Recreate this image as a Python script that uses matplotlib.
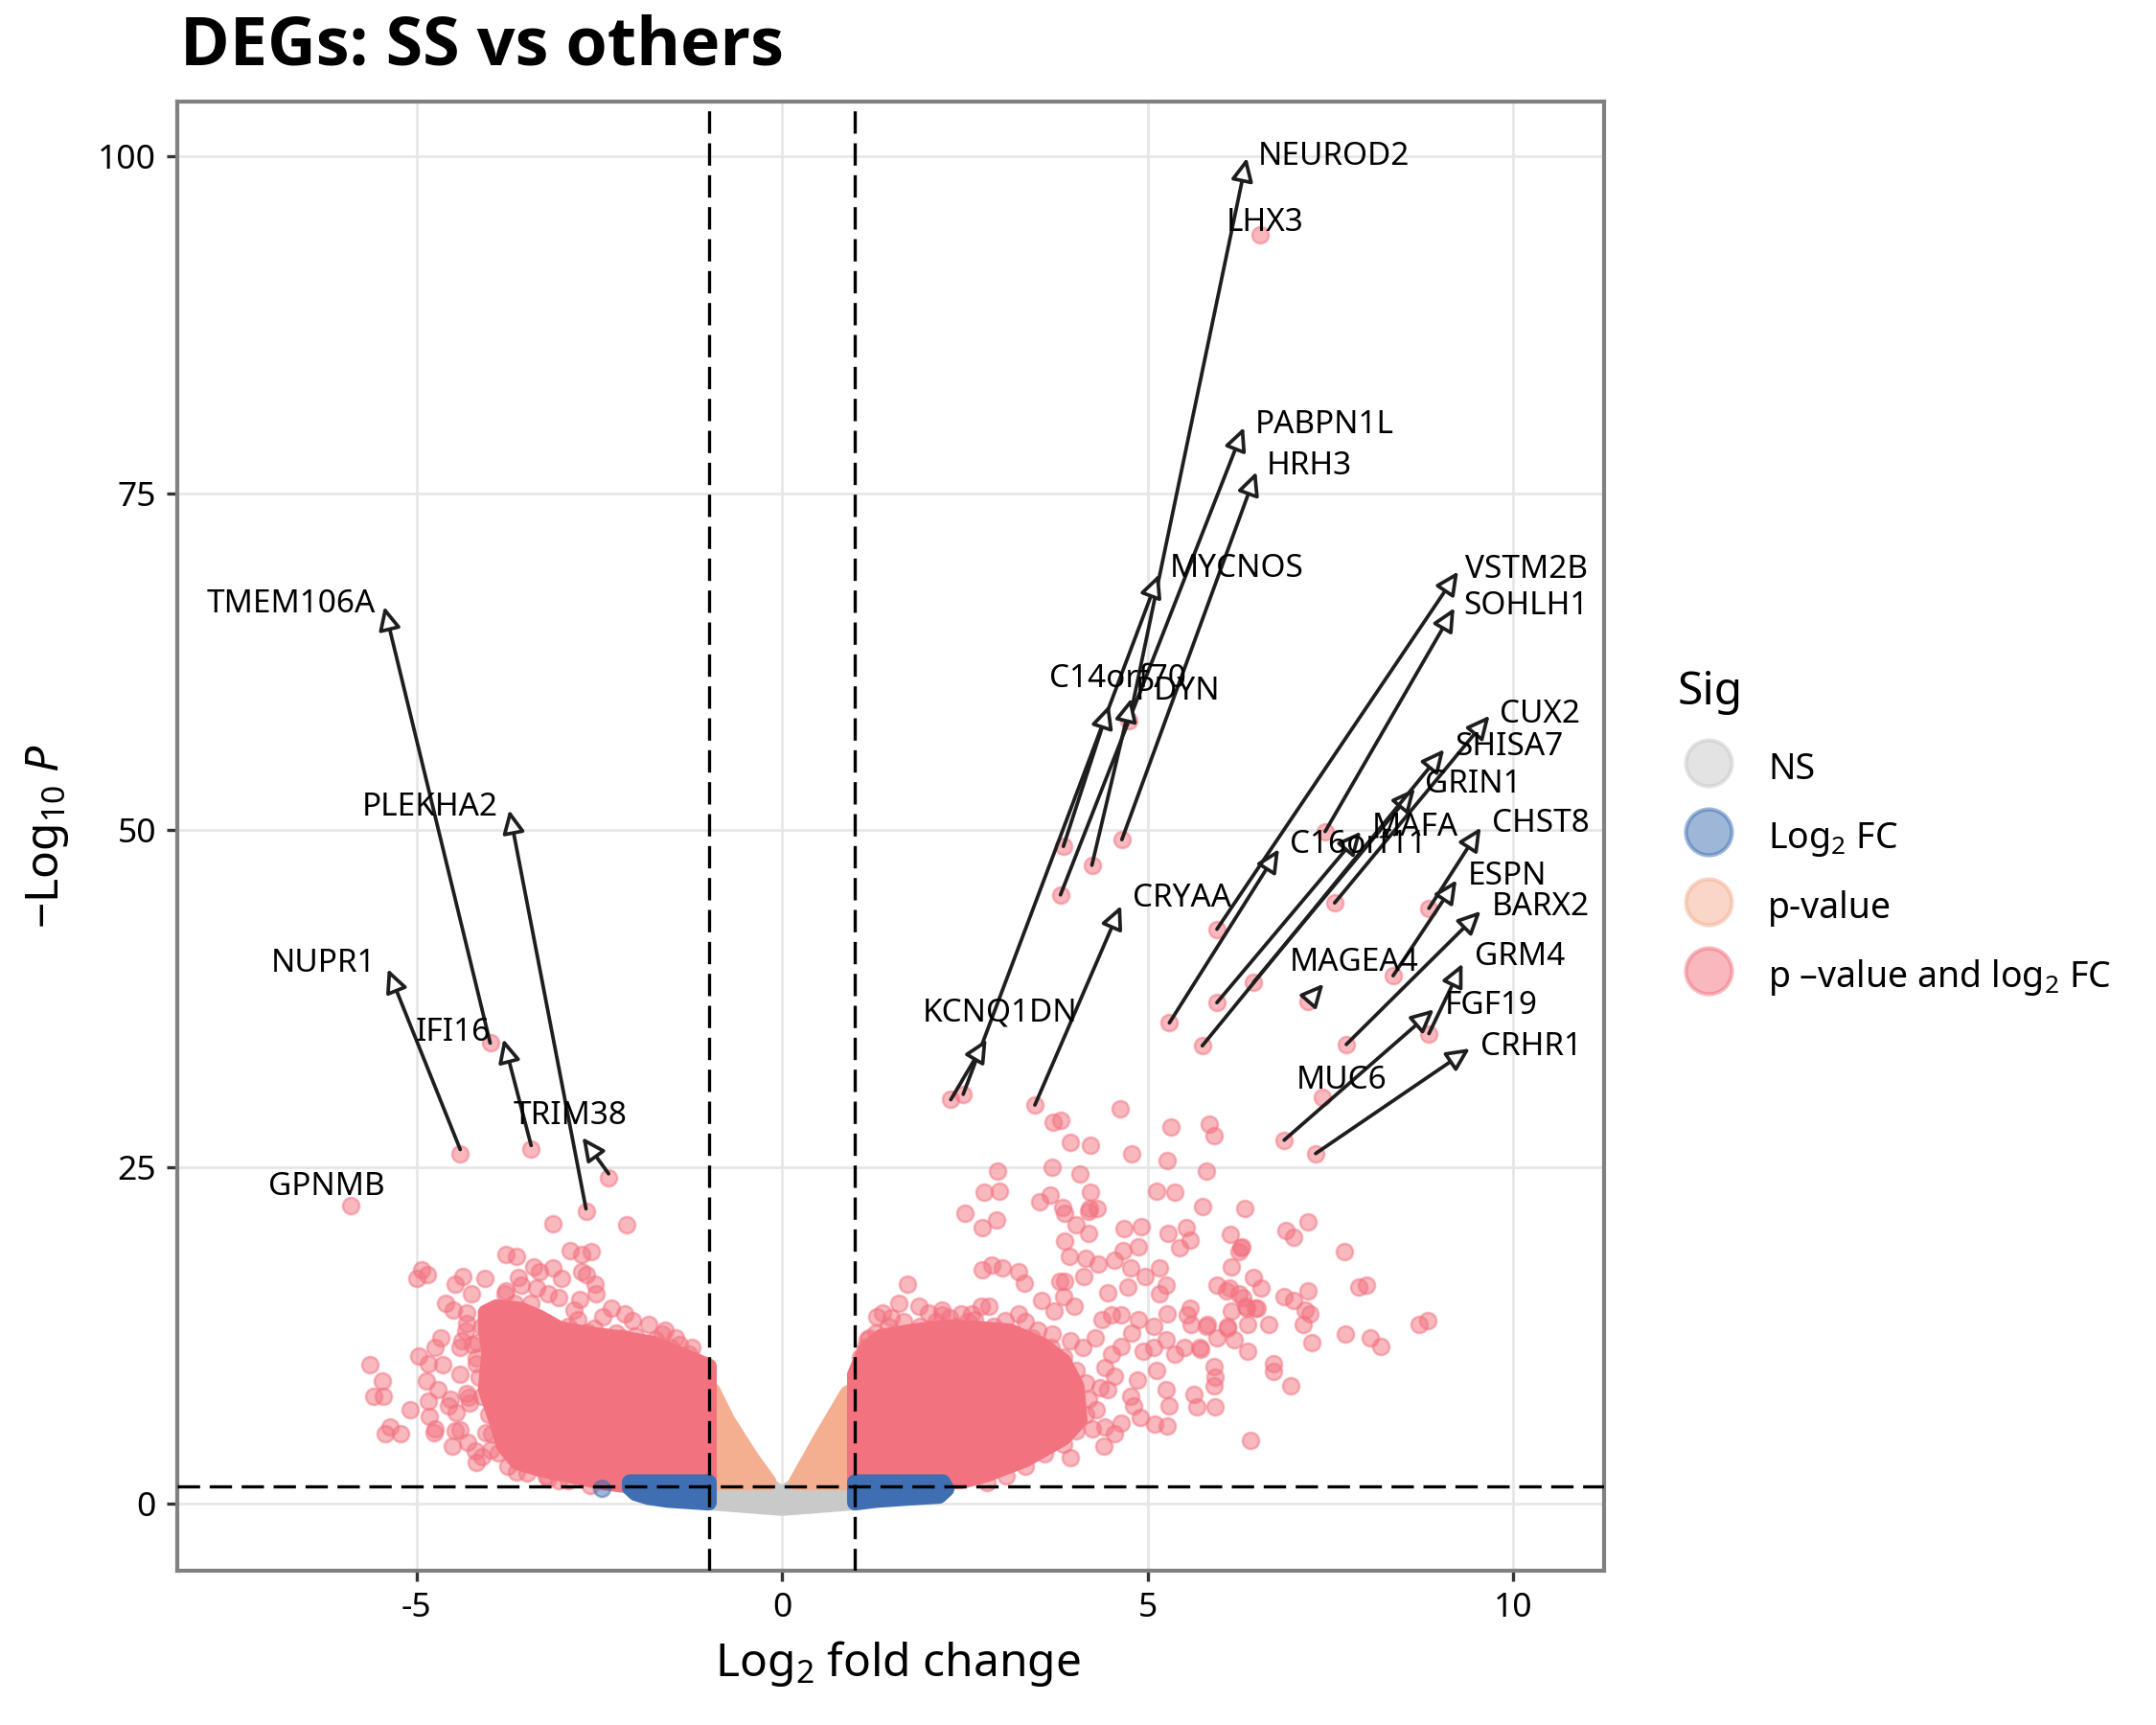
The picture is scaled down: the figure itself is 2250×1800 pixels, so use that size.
import matplotlib
matplotlib.use('Agg')
import matplotlib.pyplot as plt
from matplotlib.lines import Line2D

plt.rcParams['font.family'] = ['Noto Sans', 'DejaVu Sans']
plt.rcParams['mathtext.fontset'] = 'custom'
plt.rcParams['mathtext.rm'] = 'Noto Sans'
plt.rcParams['mathtext.it'] = 'Noto Sans:italic'
plt.rcParams['mathtext.bf'] = 'Noto Sans:bold'

# ---- colours for the four categories
col_ns = '#C9C9C9'
col_fc = '#3F6FB2'
col_p = '#F4AF91'
col_both = '#F3727F'

# ---- dense cores of the clouds (outlines, data units)
ns_x = [-0.95, -0.22, 0.0, 0.22, 0.95, 0.95, 0.0, -0.95]
ns_y = [1.6, 1.5, 0.7, 1.5, 1.6, 0.1, -0.3, 0.1]

fc_left_x = [-2.08, -1.0, -1.0, -1.56, -1.82, -2.0, -2.08]
fc_left_y = [1.6, 1.6, 0.1, 0.3, 0.5, 0.8, 1.2]
fc_right_x = [1.0, 2.2, 2.25, 2.15, 1.7, 1.3, 1.0]
fc_right_y = [1.6, 1.6, 1.1, 0.6, 0.45, 0.3, 0.1]

p_left_x = [-1.0, -0.95, -0.75, -0.42, -0.18, -1.0]
p_left_y = [8.6, 8.4, 6.2, 3.4, 1.6, 1.6]
p_right_x = [1.0, 0.9, 0.55, 0.2, 1.0]
p_right_y = [8.4, 8.2, 5.0, 1.6, 1.6]

both_left_x = [-4.05, -3.90, -3.57, -3.31, -3.05, -2.66, -2.22, -1.78, -1.35, -1.0,
               -1.0, -1.57, -2.0, -2.44, -2.87, -3.31, -3.62, -3.80, -3.90, -4.05,
               -4.00, -4.05]
both_left_y = [14.2, 14.6, 14.4, 13.8, 13.0, 12.6, 12.3, 11.9, 11.0, 10.2,
               1.9, 1.6, 1.3, 1.6, 2.1, 2.6, 3.1, 4.3, 6.1, 8.5,
               11.3, 13.0]
both_right_x = [1.0, 1.14, 1.36, 1.80, 2.24, 2.67, 3.11, 3.55, 3.85, 4.03,
                4.07, 3.85, 3.33, 2.80, 2.46, 2.02, 1.0]
both_right_y = [9.6, 11.4, 12.4, 12.8, 13.1, 13.0, 12.8, 11.8, 10.6, 8.7,
                6.2, 4.9, 3.3, 2.2, 1.7, 1.6, 1.6]

# ---- individual significant genes outside the dense cores
both_pts_left_x = [-3.13, -2.12, -3.77, -3.63, -2.90, -2.74, -2.61, -3.40, -3.13, -3.31,
                   -4.93, -4.99, -4.85, -4.36, -4.06, -4.47, -3.77, -3.57, -3.01, -2.74,
                   -2.68, -2.55, -2.54, -2.76, -3.05, -4.60, -4.49, -4.25, -2.33, -2.15,
                   -2.79, -2.57, -1.82, -1.64, -1.45, -2.0, -1.23, -1.06, -4.66, -4.75,
                   -4.97, -4.84, -4.86, -4.64, -4.40, -4.33, -5.63, -5.47, -5.58, -5.45,
                   -5.09, -4.84, -4.71, -4.53, -4.31, -4.27, -4.56, -5.36, -5.43, -5.21,
                   -4.82, -4.75, -4.76, -4.47, -4.40, -4.51, -4.18, -4.10, -4.05, -3.63,
                   -3.98, -4.14, -4.18, -3.92, -4.31, -4.23, -3.77, -3.55, -3.20, -2.09,
                   -1.52, -2.27, -1.73, -1.21, -1.40, -1.27, -3.20, -3.06,
                   -4.01, -3.79, -3.66, -3.44, -3.31, -3.18, -2.92, -2.66, -2.44, -2.18,
                   -1.91, -1.65, -1.43, -1.17, -1.08, -4.10, -4.17, -4.18, -4.10, -4.01,
                   -3.97, -3.88, -3.75, -3.49, -3.23, -2.92, -2.62, -4.31, -4.40, -4.45,
                   -4.30, -4.38, -4.28, -4.20, -3.60, -3.35, -2.85, -2.45, -2.05, -1.60,
                   -5.90, -2.68, -3.99, -4.40, -3.43, -2.37]
both_pts_left_y = [20.8, 20.7, 18.5, 18.4, 18.8, 18.5, 18.7, 17.6, 17.5, 17.2,
                   17.4, 16.7, 17.0, 16.9, 16.7, 16.3, 15.8, 16.2, 16.7, 17.2,
                   17.0, 16.3, 15.6, 15.2, 15.3, 14.9, 14.4, 15.6, 14.5, 14.1,
                   13.7, 13.0, 13.3, 12.6, 12.3, 12.5, 11.6, 10.0, 12.3, 11.6,
                   11.0, 10.4, 9.1, 10.3, 11.6, 12.8, 10.3, 9.1, 8.0, 8.0,
                   7.0, 7.6, 8.5, 7.8, 8.2, 7.5, 7.3, 5.7, 5.2, 5.2,
                   6.5, 5.6, 5.3, 5.4, 5.5, 4.3, 3.1, 3.5, 5.3, 2.4,
                   4.0, 9.4, 10.4, 11.6, 13.4, 11.8, 13.2, 13.7, 15.6, 12.0,
                   11.6, 12.7, 12.2, 10.6, 11.8, 11.1, 1.85, 1.75,
                   14.2, 15.6, 14.9, 14.9, 13.7, 13.2, 13.2, 12.75, 12.3, 12.3,
                   11.8, 11.6, 11.1, 10.4, 9.4, 13.2, 12.0, 10.8, 8.0, 6.6,
                   5.2, 3.8, 2.8, 2.3, 2.1, 1.7, 1.35, 14.2, 9.6, 6.8,
                   4.6, 12.1, 7.9, 3.9, 16.8, 16.0, 14.4, 13.9, 13.6, 12.9,
                   22.15, 21.7, 34.2, 26.0, 26.3, 24.2]

both_pts_right_x = [1.72, 1.37, 1.60, 1.87, 2.19, 2.19, 2.72, 2.83, 3.24, 3.33,
                    2.63, 1.17, 1.28, 1.12, 2.50, 2.74, 2.77, 2.97, 2.93, 2.95,
                    3.71, 3.82, 3.94, 4.22, 4.63, 4.78, 5.32, 5.27, 5.84, 5.91,
                    5.81, 3.69, 4.08, 4.22, 3.52, 3.67, 3.84, 3.87, 4.03, 4.19,
                    4.20, 4.31, 3.87, 3.93, 4.16, 4.33, 4.13, 4.55, 4.68, 4.92,
                    4.88, 4.77, 4.97, 4.66, 5.13, 5.37, 5.28, 5.53, 5.58, 5.44,
                    5.76, 6.33, 6.14, 6.28, 6.25, 6.15, 6.90, 7.00, 7.19, 5.16,
                    5.25, 5.16, 4.73, 4.46, 3.80, 3.87, 3.55, 3.72, 4.00, 3.85,
                    3.31, 3.24, 2.74, 2.87, 3.02, 5.95, 6.12, 6.45, 6.55, 6.87,
                    7.00, 7.19, 6.30, 6.15, 6.34, 6.50, 7.16, 7.22, 7.13, 6.66,
                    6.37, 6.10, 5.95, 6.19, 6.37, 7.25, 6.72, 6.72, 6.96, 6.41,
                    5.58, 5.54, 5.60, 5.82, 5.72, 5.91, 5.93, 5.91, 5.64, 5.67,
                    5.93, 5.51, 5.38, 5.27, 5.25, 5.08, 5.08, 4.94, 5.12, 4.86,
                    5.25, 5.29, 5.10, 5.27, 4.77, 4.81, 4.90, 4.64, 4.42, 4.55,
                    4.40, 4.51, 4.38, 4.64, 4.88, 4.79, 4.64, 4.51, 4.42, 4.46,
                    4.55, 4.29, 4.11, 3.94, 7.69, 7.89, 8.00, 6.35, 6.47, 5.81,
                    6.09, 7.70, 8.05, 8.19, 8.72, 8.84, 5.73, 6.08, 6.25, 6.29,
                    4.21,
                    1.14, 1.28, 1.45, 1.67, 1.89, 2.11, 2.37, 2.54, 2.89, 3.15,
                    3.42, 3.68, 3.85, 4.03, 4.16, 4.20, 4.16, 4.03, 3.85, 3.59,
                    3.33, 3.07, 2.80, 1.10, 1.08, 1.19, 1.58, 1.30, 2.00, 2.45,
                    3.05, 3.50, 4.30, 4.35, 4.25, 3.95, 1.50, 2.30, 2.60, 3.70,
                    4.75, 3.85, 4.24, 4.65, 3.81, 2.31, 2.48, 3.46, 5.30, 5.95,
                    7.43, 5.95, 6.45, 5.75, 7.56, 8.85, 8.36, 7.20, 7.72, 8.85,
                    6.87, 7.30, 7.39, 6.54]
both_pts_right_y = [16.3, 14.2, 14.9, 14.7, 14.4, 14.0, 14.7, 14.7, 14.1, 13.5,
                    13.7, 12.2, 10.9, 10.2, 21.6, 20.5, 23.1, 23.2, 21.1, 24.7,
                    28.3, 28.5, 26.8, 26.6, 29.3, 26.0, 28.0, 25.5, 28.2, 27.3,
                    24.7, 25.0, 24.5, 23.1, 22.4, 22.9, 22.0, 21.6, 20.7, 20.1,
                    21.7, 21.9, 19.5, 18.4, 18.2, 17.8, 16.9, 18.1, 20.4, 20.6,
                    19.1, 17.5, 16.9, 18.8, 23.2, 23.1, 20.1, 20.5, 19.6, 19.0,
                    22.1, 21.9, 20.0, 19.0, 18.7, 17.6, 20.3, 19.8, 20.9, 17.5,
                    16.2, 15.6, 16.1, 15.7, 16.5, 16.5, 15.1, 14.3, 14.7, 15.4,
                    16.4, 17.2, 17.4, 17.7, 17.5, 16.2, 16.0, 16.8, 16.0, 15.4,
                    15.1, 15.8, 15.3, 14.3, 14.7, 14.5, 14.4, 14.1, 13.3, 13.3,
                    13.3, 13.2, 12.3, 12.2, 11.3, 12.0, 10.4, 9.8, 8.8, 4.7,
                    14.5, 14.0, 13.3, 13.3, 11.6, 10.2, 9.4, 8.8, 8.1, 7.2,
                    7.2, 11.6, 11.1, 14.1, 12.2, 13.2, 11.6, 11.3, 9.9, 9.2,
                    8.5, 7.3, 5.9, 5.8, 8.0, 7.3, 6.4, 6.0, 5.7, 5.2,
                    4.3, 14.0, 13.7, 14.0, 13.7, 12.7, 11.7, 11.1, 10.1, 8.5,
                    9.5, 12.3, 11.6, 12.1, 18.7, 16.1, 16.2, 14.5, 14.5, 13.2,
                    13.0, 12.6, 12.3, 11.7, 13.3, 13.6, 11.5, 15.8, 15.6, 19.1,
                    21.9,
                    11.6, 12.7, 13.2, 13.5, 13.2, 13.5, 13.2, 13.5, 13.2, 12.7,
                    12.3, 11.6, 10.9, 9.9, 9.0, 7.8, 6.6, 5.4, 4.4, 3.7,
                    2.8, 2.1, 1.6, 9.5, 10.9, 12.3, 12.3, 13.9, 14.2, 14.1,
                    13.6, 12.9, 7.0, 8.6, 5.6, 3.4, 13.8, 13.8, 14.1, 12.6,
                    58.1, 48.8, 47.4, 49.3, 45.2, 30.0, 30.4, 29.6, 35.7, 42.65,
                    49.9, 37.2, 38.7, 34.0, 44.6, 44.2, 39.2, 37.3, 34.1, 34.9,
                    27.0, 26.0, 30.2, 94.2]

fc_pts_x = [-2.46]
fc_pts_y = [1.14]

# ---- gene labels
label_genes = ['TMEM106A', 'PLEKHA2', 'NUPR1', 'IFI16', 'TRIM38', 'GPNMB',
               'NEUROD2', 'LHX3', 'PABPN1L', 'HRH3', 'MYCNOS', 'VSTM2B', 'SOHLH1',
               'C14orf70', 'PDYN', 'CUX2', 'SHISA7', 'GRIN1', 'CHST8', 'MAFA',
               'C16orf11', 'ESPN', 'CRYAA', 'BARX2', 'MAGEA4', 'GRM4', 'FGF19',
               'KCNQ1DN', 'CRHR1', 'MUC6']
label_x = [-5.56, -3.88, -5.56, -3.98, -2.90, -6.23,
           6.51, 6.61, 6.47, 6.63, 5.31, 9.35, 9.32,
           4.59, 5.41, 9.82, 9.21, 8.80, 9.71, 8.66,
           7.88, 9.38, 4.80, 9.71, 7.83, 9.47, 9.06,
           2.98, 9.56, 7.65]
label_y = [66.8, 51.7, 40.1, 35.0, 28.8, 23.5,
           100.0, 95.1, 80.1, 77.0, 69.4, 69.3, 66.6,
           61.2, 60.3, 58.6, 56.2, 53.4, 50.45, 50.2,
           48.9, 46.6, 44.9, 44.3, 40.2, 40.6, 37.0,
           36.4, 33.9, 31.4]
label_ha = ['right', 'right', 'right', 'right', 'center', 'center',
            'left', 'center', 'left', 'left', 'left', 'left', 'left',
            'center', 'center', 'left', 'left', 'left', 'left', 'center',
            'center', 'left', 'left', 'left', 'center', 'left', 'left',
            'center', 'left', 'center']

# ---- connectors (from gene point to label)
arrow_tail_x = [-3.99, -2.68, -4.40, -3.43, -2.37,
                4.75, 3.81, 4.65, 2.48, 3.85, 4.24, 2.31, 3.46, 5.30, 5.95,
                7.43, 5.95, 6.45, 5.75, 7.56, 8.85, 8.36, 7.20, 7.72, 8.85,
                6.87, 7.30]
arrow_tail_y = [34.2, 21.9, 26.3, 26.6, 24.5,
                58.1, 45.2, 49.3, 30.4, 48.8, 47.4, 30.0, 29.6, 35.7, 42.65,
                49.9, 37.2, 38.7, 34.0, 44.6, 44.2, 39.2, 37.3, 34.1, 34.9,
                27.0, 26.0]
arrow_head_x = [-5.44, -3.73, -5.39, -3.81, -2.73,
                6.36, 6.32, 6.49, 5.16, 4.48, 4.78, 2.80, 4.64, 6.80, 9.25,
                9.20, 7.92, 8.66, 9.06, 9.68, 9.56, 9.23, 7.41, 9.56, 9.31,
                8.92, 9.41]
arrow_head_y = [66.6, 51.5, 39.7, 34.5, 27.2,
                99.9, 79.9, 76.6, 69.0, 59.3, 59.8, 34.5, 44.4, 48.6, 69.2,
                66.5, 49.9, 53.1, 56.0, 58.5, 50.2, 46.3, 38.6, 44.0, 40.1,
                36.7, 33.8]

legend_labels = ['NS', r'Log$_2$ FC', 'p-value', 'p \u2013value and log$_2$ FC']

# ---- figure
fig = plt.figure(figsize=(7.5, 6), dpi=300)
ax = fig.add_axes([185 / 2250, 1 - 1639 / 1800, (1674 - 185) / 2250, (1639 - 106) / 1800])

# dense cores: filled outline with a round, marker-wide edge
core = dict(lw=4.0, joinstyle='round')
ax.fill(ns_x, ns_y, color=col_ns, zorder=2, **core)
ax.fill(p_left_x, p_left_y, color=col_p, zorder=2, **core)
ax.fill(p_right_x, p_right_y, color=col_p, zorder=2, **core)
ax.fill(both_left_x, both_left_y, color=col_both, zorder=3, **core)
ax.fill(both_right_x, both_right_y, color=col_both, zorder=3, **core)
ax.fill(fc_left_x, fc_left_y, color=col_fc, zorder=4, **core)
ax.fill(fc_right_x, fc_right_y, color=col_fc, zorder=4, **core)

pt = dict(s=17, alpha=0.5, linewidths=0.6)
ax.scatter(both_pts_left_x, both_pts_left_y, color=col_both, zorder=3.5, **pt)
ax.scatter(both_pts_right_x, both_pts_right_y, color=col_both, zorder=3.5, **pt)
ax.scatter(fc_pts_x, fc_pts_y, color=col_fc, zorder=4.5, **pt)

# cut-off lines
dash = dict(color='black', lw=0.8, dashes=(7, 3), zorder=5)
ax.axvline(-1, **dash)
ax.axvline(1, **dash)
ax.axhline(1.30103, **dash)

# connectors and labels
for tx, ty, hx, hy in zip(arrow_tail_x, arrow_tail_y, arrow_head_x, arrow_head_y):
    ax.annotate('', xy=(hx, hy), xytext=(tx, ty),
                arrowprops=dict(arrowstyle='-|>,head_length=0.48,head_width=0.23',
                                mutation_scale=10, color='#1E1E1E', fc='white',
                                lw=0.9, shrinkA=0, shrinkB=0), zorder=6)
for g, lx, ly, ha in zip(label_genes, label_x, label_y, label_ha):
    ax.text(lx, ly, g, ha=ha, va='center', fontsize=8, color='black', zorder=7)

ax.set_xlim(-8.27, 11.245)
ax.set_ylim(-4.96, 104.07)
ax.set_xticks([-5, 0, 5, 10])
ax.set_xticklabels(['-5', '0', '5', '10'])
ax.set_yticks([0, 25, 50, 75, 100])
ax.grid(True, color='#E6E6E6', lw=0.65, zorder=0)
ax.set_axisbelow(True)
for s in ax.spines.values():
    s.set_color('#808080')
    s.set_linewidth(1.0)
ax.tick_params(axis='both', length=2.75, width=0.8, color='#333333',
               labelsize=8.5, labelcolor='black', pad=2.5)

ax.set_xlabel(r'Log$_2$ fold change', fontsize=11.5)
ax.xaxis.set_label_coords(0.505, -0.0633)
ax.xaxis.label.set_va('center')
ax.set_ylabel(r'$-$Log$_{10}$ $\it{P}$', fontsize=11.5)
ax.yaxis.set_label_coords(-0.0907, 0.5)
ax.yaxis.label.set_va('center')

fig.text(188 / 2250, 1 - 50 / 1800, 'DEGs: SS vs others', fontsize=16.8,
         fontweight='bold', family=['Open Sans', 'DejaVu Sans'],
         ha='left', va='center')

# legend
fig.text(1751 / 2250, 1 - 722 / 1800, 'Sig', fontsize=11.5, ha='left', va='center')
handles = []
for c in [col_ns, col_fc, col_p, col_both]:
    handles.append(Line2D([], [], ls='none', marker='o', markersize=11.5,
                          markerfacecolor=c, markeredgecolor=c,
                          markeredgewidth=1.0, alpha=0.5))
fig.legend(handles, legend_labels, loc='upper left',
           bbox_to_anchor=(1712 / 2250, 1 - 745 / 1800), frameon=False,
           fontsize=9, handlelength=2.0, handleheight=1.4,
           handletextpad=0.65, labelspacing=0.76)

fig.savefig('out.png', dpi=300)
